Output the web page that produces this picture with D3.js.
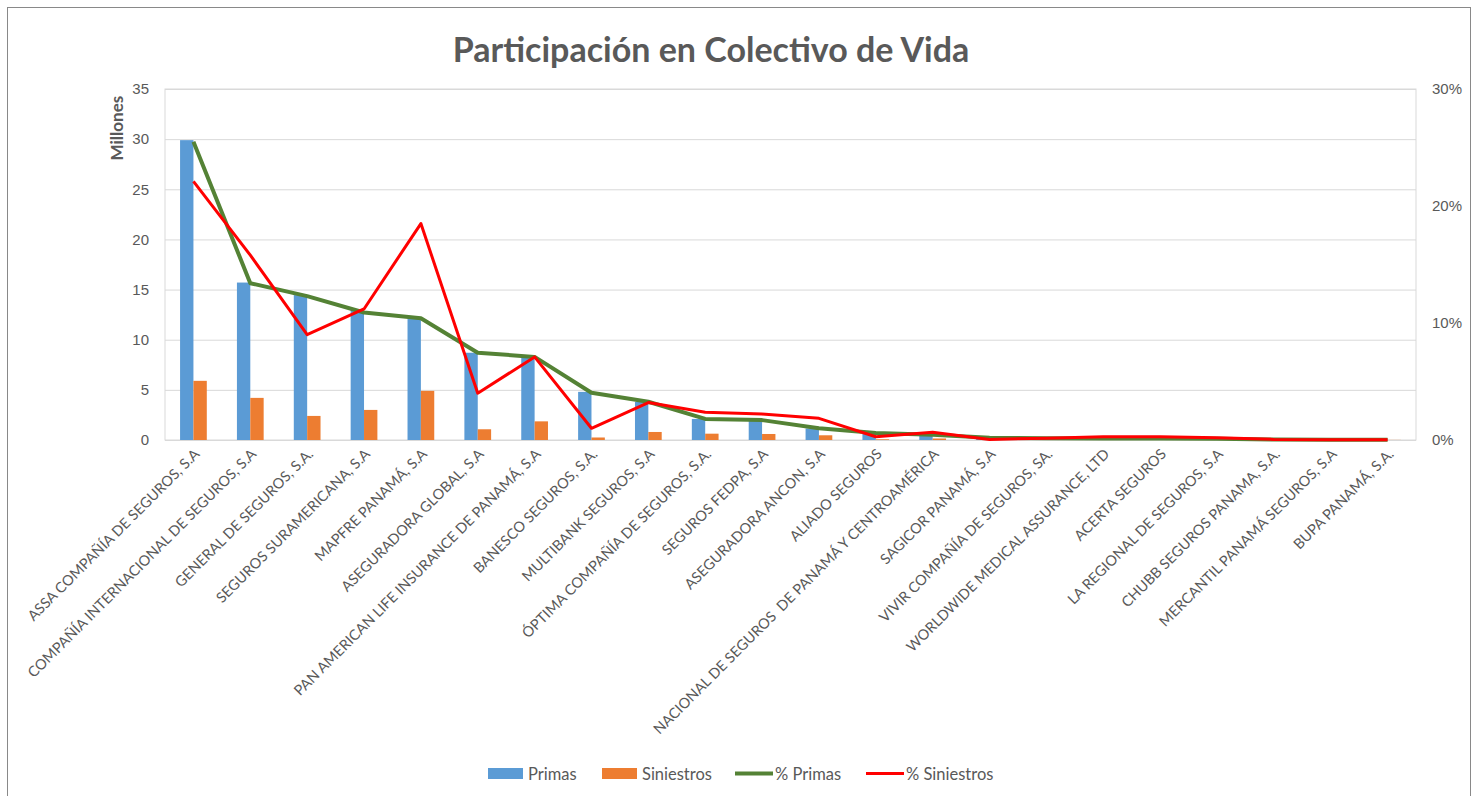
<!DOCTYPE html>
<head>
	<meta charset="utf-8">
	<style>
		body { margin: 0; background: #fff; }
		svg { font-family: Lato, "Open Sans", sans-serif; }
		.tick text { fill: #595959; }
		.xlab { fill: #595959; font-size: 14.5px; white-space: pre; }
	</style>
</head>
<body>
	<svg width="1477" height="796"></svg>
	<script src="https://d3js.org/d3.v7.min.js"></script>
	<script>

		var categories = [
			"ASSA COMPAÑÍA DE SEGUROS, S.A",
			"COMPAÑÍA INTERNACIONAL DE SEGUROS, S.A",
			"GENERAL DE SEGUROS, S.A.",
			"SEGUROS SURAMERICANA, S.A",
			"MAPFRE PANAMÁ, S.A",
			"ASEGURADORA GLOBAL, S.A",
			"PAN AMERICAN LIFE INSURANCE DE PANAMÁ, S.A",
			"BANESCO SEGUROS, S.A.",
			"MULTIBANK SEGUROS, S.A",
			"ÓPTIMA COMPAÑÍA DE SEGUROS, S.A.",
			"SEGUROS FEDPA, S.A",
			"ASEGURADORA ANCON, S.A",
			"ALIADO SEGUROS",
			"NACIONAL DE SEGUROS  DE PANAMÁ Y CENTROAMÉRICA",
			"SAGICOR PANAMÁ, S.A",
			"VIVIR COMPAÑÍA DE SEGUROS, SA.",
			"WORLDWIDE MEDICAL ASSURANCE, LTD",
			"ACERTA SEGUROS",
			"LA REGIONAL DE SEGUROS, S.A",
			"CHUBB SEGUROS PANAMA, S.A.",
			"MERCANTIL PANAMÁ SEGUROS, S.A",
			"BUPA PANAMÁ, S.A."
		];

		// millones
		var primas = [29.9, 15.7, 14.45, 12.95, 12.15, 8.7, 8.3, 4.8, 3.8, 2.1, 2.0, 1.15,
			0.6, 0.4, 0.2, 0.15, 0.12, 0.12, 0.1, 0.06, 0.04, 0.02];
		var siniestros = [5.9, 4.2, 2.4, 3.0, 4.9, 1.07, 1.86, 0.25, 0.8, 0.63, 0.6, 0.47,
			0.07, 0.15, 0.02, 0.04, 0.07, 0.08, 0.05, 0.01, 0.01, 0.01];

		// porcentajes
		var pctPrimas = [25.5, 13.4, 12.3, 10.9, 10.4, 7.46, 7.1, 4.04, 3.27, 1.8, 1.7, 1.0,
			0.6, 0.45, 0.2, 0.14, 0.12, 0.12, 0.1, 0.05, 0.03, 0.02];
		var pctSiniestros = [22.1, 15.8, 9.0, 11.2, 18.5, 4.0, 7.1, 1.0, 3.2, 2.37, 2.22, 1.85,
			0.28, 0.66, 0.05, 0.15, 0.27, 0.28, 0.2, 0.05, 0.03, 0.02];

		var leftTicks = [0, 5, 10, 15, 20, 25, 30, 35];
		var rightTicks = [0, 10, 20, 30];

		var svg = d3.select("svg"),
			margin = { top: 89, right: 61, bottom: 356, left: 165 },
			width = 1477 - margin.left - margin.right,
			height = 796 - margin.top - margin.bottom,
			g = svg.append("g").attr("transform", "translate(" + margin.left + "," + margin.top + ")");

		// outer frame
		svg.append("rect")
			.attr("x", 7.5).attr("y", 7.5)
			.attr("width", 1463).attr("height", 800)
			.attr("fill", "none").attr("stroke", "#898989");

		svg.append("text")
			.attr("x", 711).attr("y", 62)
			.attr("text-anchor", "middle")
			.attr("font-size", "34px").attr("font-weight", "bold")
			.attr("fill", "#595959")
			.text("Participación en Colectivo de Vida");

		var x = d3.scaleBand()
			.domain(categories)
			.range([0, width])
			.paddingInner(0.53)
			.paddingOuter(0.265);

		var x1 = d3.scaleBand()
			.domain(["primas", "siniestros"])
			.range([0, x.bandwidth()]);

		var y = d3.scaleLinear().domain([0, 35]).range([height, 0]);
		var y2 = d3.scaleLinear().domain([0, 30]).range([height, 0]);

		// grid
		g.append("g")
			.call(d3.axisLeft(y).tickValues(leftTicks).tickSize(-width).tickFormat(""))
			.call(function (a) {
				a.select(".domain").remove();
				a.selectAll("line").attr("stroke", "#d9d9d9");
			});

		g.append("rect")
			.attr("width", width).attr("height", height)
			.attr("fill", "none").attr("stroke", "#d9d9d9");

		// left axis
		g.append("g")
			.call(d3.axisLeft(y).tickValues(leftTicks).tickSize(0).tickPadding(16))
			.call(function (a) {
				a.select(".domain").remove();
				a.selectAll("text").attr("font-size", "15px");
			});

		g.append("text")
			.attr("transform", "translate(-42," + (y(31.1)) + ") rotate(-90)")
			.attr("text-anchor", "middle")
			.attr("font-size", "17px").attr("font-weight", "bold")
			.attr("fill", "#595959")
			.text("Millones");

		// right axis
		g.append("g")
			.attr("transform", "translate(" + width + ",0)")
			.call(d3.axisRight(y2).tickValues(rightTicks).tickSize(0).tickPadding(16)
				.tickFormat(function (d) { return d + "%"; }))
			.call(function (a) {
				a.select(".domain").remove();
				a.selectAll("text").attr("font-size", "15px");
			});

		// bars
		var groups = g.selectAll(".cat")
			.data(categories)
			.enter().append("g")
			.attr("class", "cat")
			.attr("transform", function (d) { return "translate(" + x(d) + ",0)"; });

		groups.append("rect")
			.attr("x", x1("primas"))
			.attr("width", x1.bandwidth())
			.attr("y", function (d, i) { return y(primas[i]); })
			.attr("height", function (d, i) { return height - y(primas[i]); })
			.attr("fill", "#5b9bd5");

		groups.append("rect")
			.attr("x", x1("siniestros"))
			.attr("width", x1.bandwidth())
			.attr("y", function (d, i) { return y(siniestros[i]); })
			.attr("height", function (d, i) { return height - y(siniestros[i]); })
			.attr("fill", "#ed7d31");

		// lines
		var line = d3.line()
			.x(function (d, i) { return x(categories[i]) + x.bandwidth() / 2; })
			.y(function (d) { return y2(d); });

		g.append("path")
			.datum(pctPrimas)
			.attr("d", line)
			.attr("fill", "none")
			.attr("stroke", "#548235")
			.attr("stroke-width", 4)
			.attr("stroke-linejoin", "round");

		g.append("path")
			.datum(pctSiniestros)
			.attr("d", line)
			.attr("fill", "none")
			.attr("stroke", "#ff0000")
			.attr("stroke-width", 3)
			.attr("stroke-linejoin", "round");

		// x labels
		g.selectAll(".xlab")
			.data(categories)
			.enter().append("text")
			.attr("class", "xlab")
			.attr("text-anchor", "end")
			.attr("transform", function (d) {
				return "translate(" + (x(d) + x.bandwidth() / 2 + 7) + "," + (height + 15) + ") rotate(-45)";
			})
			.text(String);

		// legend
		var legend = svg.append("g").attr("font-size", "16.5px").attr("fill", "#595959");
		var items = [
			{ name: "Primas", type: "rect", color: "#5b9bd5", x: 488 },
			{ name: "Siniestros", type: "rect", color: "#ed7d31", x: 602 },
			{ name: "% Primas", type: "line", color: "#548235", x: 735 },
			{ name: "% Siniestros", type: "line", color: "#ff0000", x: 866 }
		];
		items.forEach(function (it) {
			if (it.type == "rect") {
				legend.append("rect").attr("x", it.x).attr("y", 768).attr("width", 35).attr("height", 11).attr("fill", it.color);
			} else {
				legend.append("line").attr("x1", it.x).attr("x2", it.x + 38).attr("y1", 773.5).attr("y2", 773.5)
					.attr("stroke", it.color).attr("stroke-width", it.color == "#ff0000" ? 3 : 4);
			}
			legend.append("text").attr("x", it.x + 40).attr("y", 779.5).text(it.name);
		});

	</script>
</body>
